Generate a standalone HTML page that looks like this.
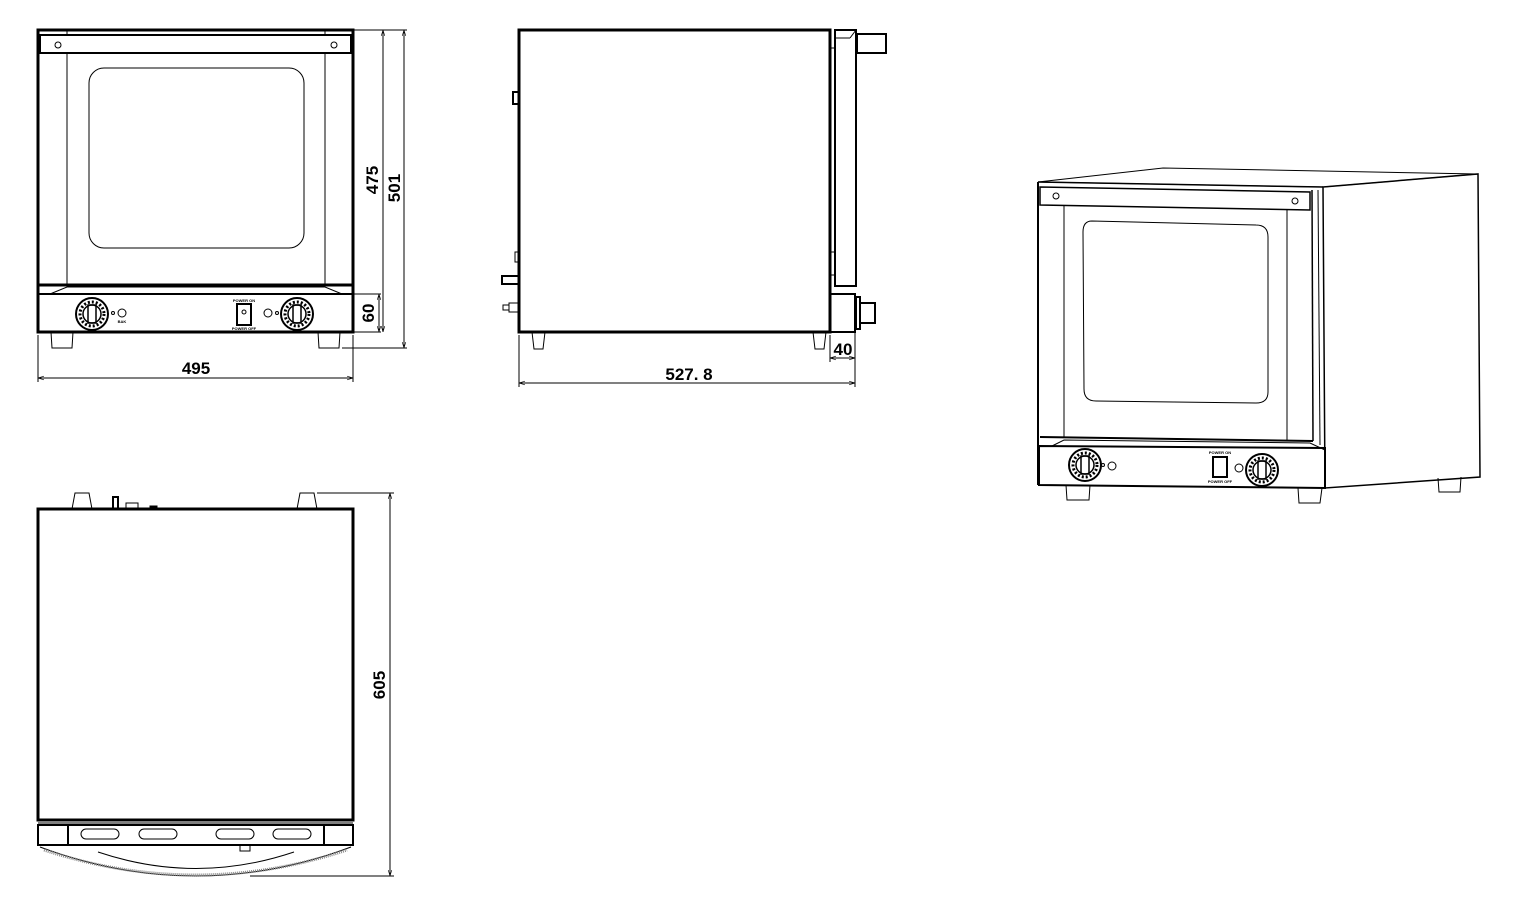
<!DOCTYPE html>
<html><head><meta charset="utf-8"><style>
html,body{margin:0;padding:0;background:#fff;width:1530px;height:919px;overflow:hidden}
svg text{font-family:"Liberation Sans Narrow","Liberation Sans",sans-serif;font-weight:bold}
</style></head><body>
<svg width="1530" height="919" viewBox="0 0 1530 919" xmlns="http://www.w3.org/2000/svg" fill="none" stroke="#000">
<defs>
<marker id="a" viewBox="0 0 10 10" refX="10" refY="5" markerWidth="6" markerHeight="6" orient="auto-start-reverse"><path d="M0,2L10,5L0,8" fill="none" stroke="#000"/></marker>
<g id="knob"><circle r="16" stroke-width="2"/><circle r="12" stroke-dasharray="2 2" stroke-width="3"/><circle r="9" stroke-width="1.5"/><rect x="-4" y="-9" width="8" height="18" stroke-width="1.5"/></g>
</defs>

<!-- FRONT VIEW -->
<g stroke-width="1">
<rect x="38" y="30" width="315" height="302" stroke-width="3"/>
<rect x="40" y="35" width="311" height="18" stroke-width="2"/>
<circle cx="58" cy="45" r="3"/><circle cx="334" cy="45" r="3"/>
<line x1="67" y1="53" x2="67" y2="285"/><line x1="325" y1="53" x2="325" y2="285"/>
<line x1="67" y1="30" x2="67" y2="35"/><line x1="325" y1="30" x2="325" y2="35"/>
<rect x="89" y="68" width="215" height="180" rx="15"/>
<line x1="38" y1="285" x2="353" y2="285" stroke-width="3"/>
<path d="M50,294 L67,287 L325,287 L342,294"/>
<line x1="38" y1="294" x2="353" y2="294" stroke-width="2"/>
<use href="#knob" x="92" y="314"/>
<circle cx="113" cy="313" r="1.5"/><circle cx="122" cy="313" r="4"/>
<text x="122" y="323" font-size="4" fill="#000" stroke="none" text-anchor="middle">BAK</text>
<rect x="237" y="304" width="14" height="21" stroke-width="2"/><circle cx="244" cy="312" r="2"/>
<text x="244" y="302" font-size="4" fill="#000" stroke="none" text-anchor="middle">POWER ON</text>
<text x="244" y="330" font-size="4" fill="#000" stroke="none" text-anchor="middle">POWER OFF</text>
<circle cx="268" cy="313" r="4"/><circle cx="277" cy="313" r="1.5"/>
<use href="#knob" x="297" y="314"/>
<path d="M51,332 L52,348 L72,348 L73,332"/><path d="M318,332 L319,348 L339,348 L340,332"/>
<!-- dims -->
<line x1="353" y1="30" x2="407" y2="30"/><line x1="342" y1="348" x2="407" y2="348"/>
<line x1="353" y1="294" x2="381" y2="294"/><line x1="353" y1="332" x2="381" y2="332"/>
<line x1="383" y1="30" x2="383" y2="332" marker-start="url(#a)" marker-end="url(#a)"/>
<line x1="404" y1="30" x2="404" y2="348" marker-start="url(#a)" marker-end="url(#a)"/>
<line x1="379" y1="294" x2="379" y2="332" marker-start="url(#a)" marker-end="url(#a)"/>
<line x1="38" y1="335" x2="38" y2="382"/><line x1="353" y1="335" x2="353" y2="382"/>
<line x1="38" y1="378" x2="353" y2="378" marker-start="url(#a)" marker-end="url(#a)"/>
</g>
<g fill="#000" stroke="none" font-size="17">
<text x="196" y="374" text-anchor="middle">495</text>
<text transform="translate(378,180) rotate(-90)" text-anchor="middle">475</text>
<text transform="translate(400,188) rotate(-90)" text-anchor="middle">501</text>
<text transform="translate(374,313) rotate(-90)" text-anchor="middle">60</text>
</g>

<!-- SIDE VIEW -->
<g stroke-width="1">
<rect x="519" y="30" width="311" height="302" stroke-width="3"/>
<rect x="835" y="30" width="21" height="256" stroke-width="2"/>
<line x1="835" y1="38" x2="850" y2="38"/><line x1="850" y1="38" x2="856" y2="30"/>
<rect x="857" y="34" width="29" height="19" stroke-width="2"/>
<line x1="830" y1="48" x2="835" y2="48"/><line x1="830" y1="252" x2="835" y2="252"/><line x1="830" y1="275" x2="835" y2="275"/>
<rect x="830" y="294" width="25" height="38" stroke-width="2"/>
<rect x="856" y="297" width="4" height="32" stroke-width="2"/>
<rect x="860" y="303" width="15" height="20" stroke-width="2"/>
<rect x="513" y="92" width="6" height="12" stroke-width="2"/>
<rect x="502" y="276" width="17" height="8" stroke-width="2"/>
<rect x="515" y="252" width="4" height="10"/>
<rect x="503" y="305" width="6" height="5"/><rect x="509" y="303" width="10" height="9"/>
<path d="M532,332 L534,349 L543,349 L545,332"/><path d="M813,332 L815,349 L824,349 L826,332"/>
<line x1="830" y1="335" x2="830" y2="362"/><line x1="855" y1="332" x2="855" y2="387"/>
<line x1="519" y1="335" x2="519" y2="387"/>
<line x1="830" y1="358" x2="855" y2="358" marker-start="url(#a)" marker-end="url(#a)"/>
<line x1="519" y1="383" x2="855" y2="383" marker-start="url(#a)" marker-end="url(#a)"/>
</g>
<g fill="#000" stroke="none" font-size="17">
<text x="689" y="380" text-anchor="middle">527. 8</text>
<text x="843" y="355" text-anchor="middle">40</text>
</g>

<!-- TOP VIEW -->
<g stroke-width="1">
<rect x="38" y="509" width="315" height="311" stroke-width="3"/>
<path d="M72,509 L75,493 L89,493 L92,509"/><path d="M297,509 L300,493 L314,493 L317,509"/>
<rect x="113" y="497" width="5" height="12" stroke-width="2"/><rect x="126" y="503" width="12" height="6"/><rect x="150" y="506" width="7" height="3" fill="#000"/>
<line x1="38" y1="823" x2="353" y2="823"/>
<rect x="38" y="825" width="315" height="20" stroke-width="2"/>
<rect x="68" y="825" width="256" height="20" stroke-width="2"/>
<rect x="81" y="829" width="38" height="10" rx="5"/><rect x="139" y="829" width="38" height="10" rx="5"/>
<rect x="216" y="829" width="38" height="10" rx="5"/><rect x="273" y="829" width="38" height="10" rx="5"/>
<path d="M40,847 Q196,905 351,847" stroke-width="1"/>
<path d="M44,850 Q196,900 347,850" stroke="#888" stroke-width="3" stroke-dasharray="1 1"/>
<path d="M98,852 Q196,885 294,852"/>
<rect x="240" y="845" width="10" height="6"/>
<line x1="317" y1="493" x2="394" y2="493"/><line x1="250" y1="876" x2="394" y2="876"/>
<line x1="390" y1="493" x2="390" y2="876" marker-start="url(#a)" marker-end="url(#a)"/>
</g>
<text transform="translate(385,685) rotate(-90)" text-anchor="middle" font-size="17" fill="#000" stroke="none">605</text>

<!-- ISO VIEW -->
<g stroke-width="1">
<path d="M1038,182 L1163,168 L1478,174 L1323,187 Z"/>
<path d="M1323,187 L1478,174 L1480,477 L1325,488 Z" stroke-width="1.5"/>
<line x1="1038" y1="182" x2="1038" y2="485" stroke-width="2"/>
<line x1="1038" y1="182" x2="1323" y2="187" stroke-width="1.5"/>
<path d="M1040,187 L1310,192 L1310,210 L1040,205 Z" stroke-width="1.5"/>
<circle cx="1056" cy="196" r="3"/><circle cx="1295" cy="201" r="3"/>
<line x1="1064" y1="205" x2="1064" y2="438"/><line x1="1287" y1="210" x2="1287" y2="441"/>
<line x1="1312" y1="190" x2="1313" y2="441" stroke-width="1.5"/>
<line x1="1318" y1="190" x2="1320" y2="445"/>
<path d="M1092,221 L1256,225 Q1268,225 1268,237 L1268,392 Q1268,403 1256,403 L1096,401 Q1084,401 1084,389 L1083,232 Q1083,221 1092,221 Z"/>
<line x1="1040" y1="437" x2="1313" y2="441" stroke-width="2"/>
<path d="M1052,446 L1064,440 L1310,443 L1325,450"/>
<path d="M1039,446 L1325,448 L1325,488 L1039,485 Z" stroke-width="2"/>
<use href="#knob" x="1085" y="465" transform="translate(0,0)"/>
<circle cx="1103" cy="465" r="1.5"/><circle cx="1112" cy="466" r="4"/>
<rect x="1213" y="457" width="14" height="20" stroke-width="2"/>
<text x="1220" y="454" font-size="4" fill="#000" stroke="none" text-anchor="middle">POWER ON</text>
<text x="1220" y="483" font-size="4" fill="#000" stroke="none" text-anchor="middle">POWER OFF</text>
<circle cx="1239" cy="468" r="4"/>
<use href="#knob" x="1262" y="470"/>
<path d="M1066,485 L1067,500 L1089,500 L1090,485"/>
<path d="M1298,488 L1299,503 L1320,503 L1322,488"/>
<path d="M1438,478 L1439,492 L1460,492 L1461,477"/>
</g>
</svg>
</body></html>
